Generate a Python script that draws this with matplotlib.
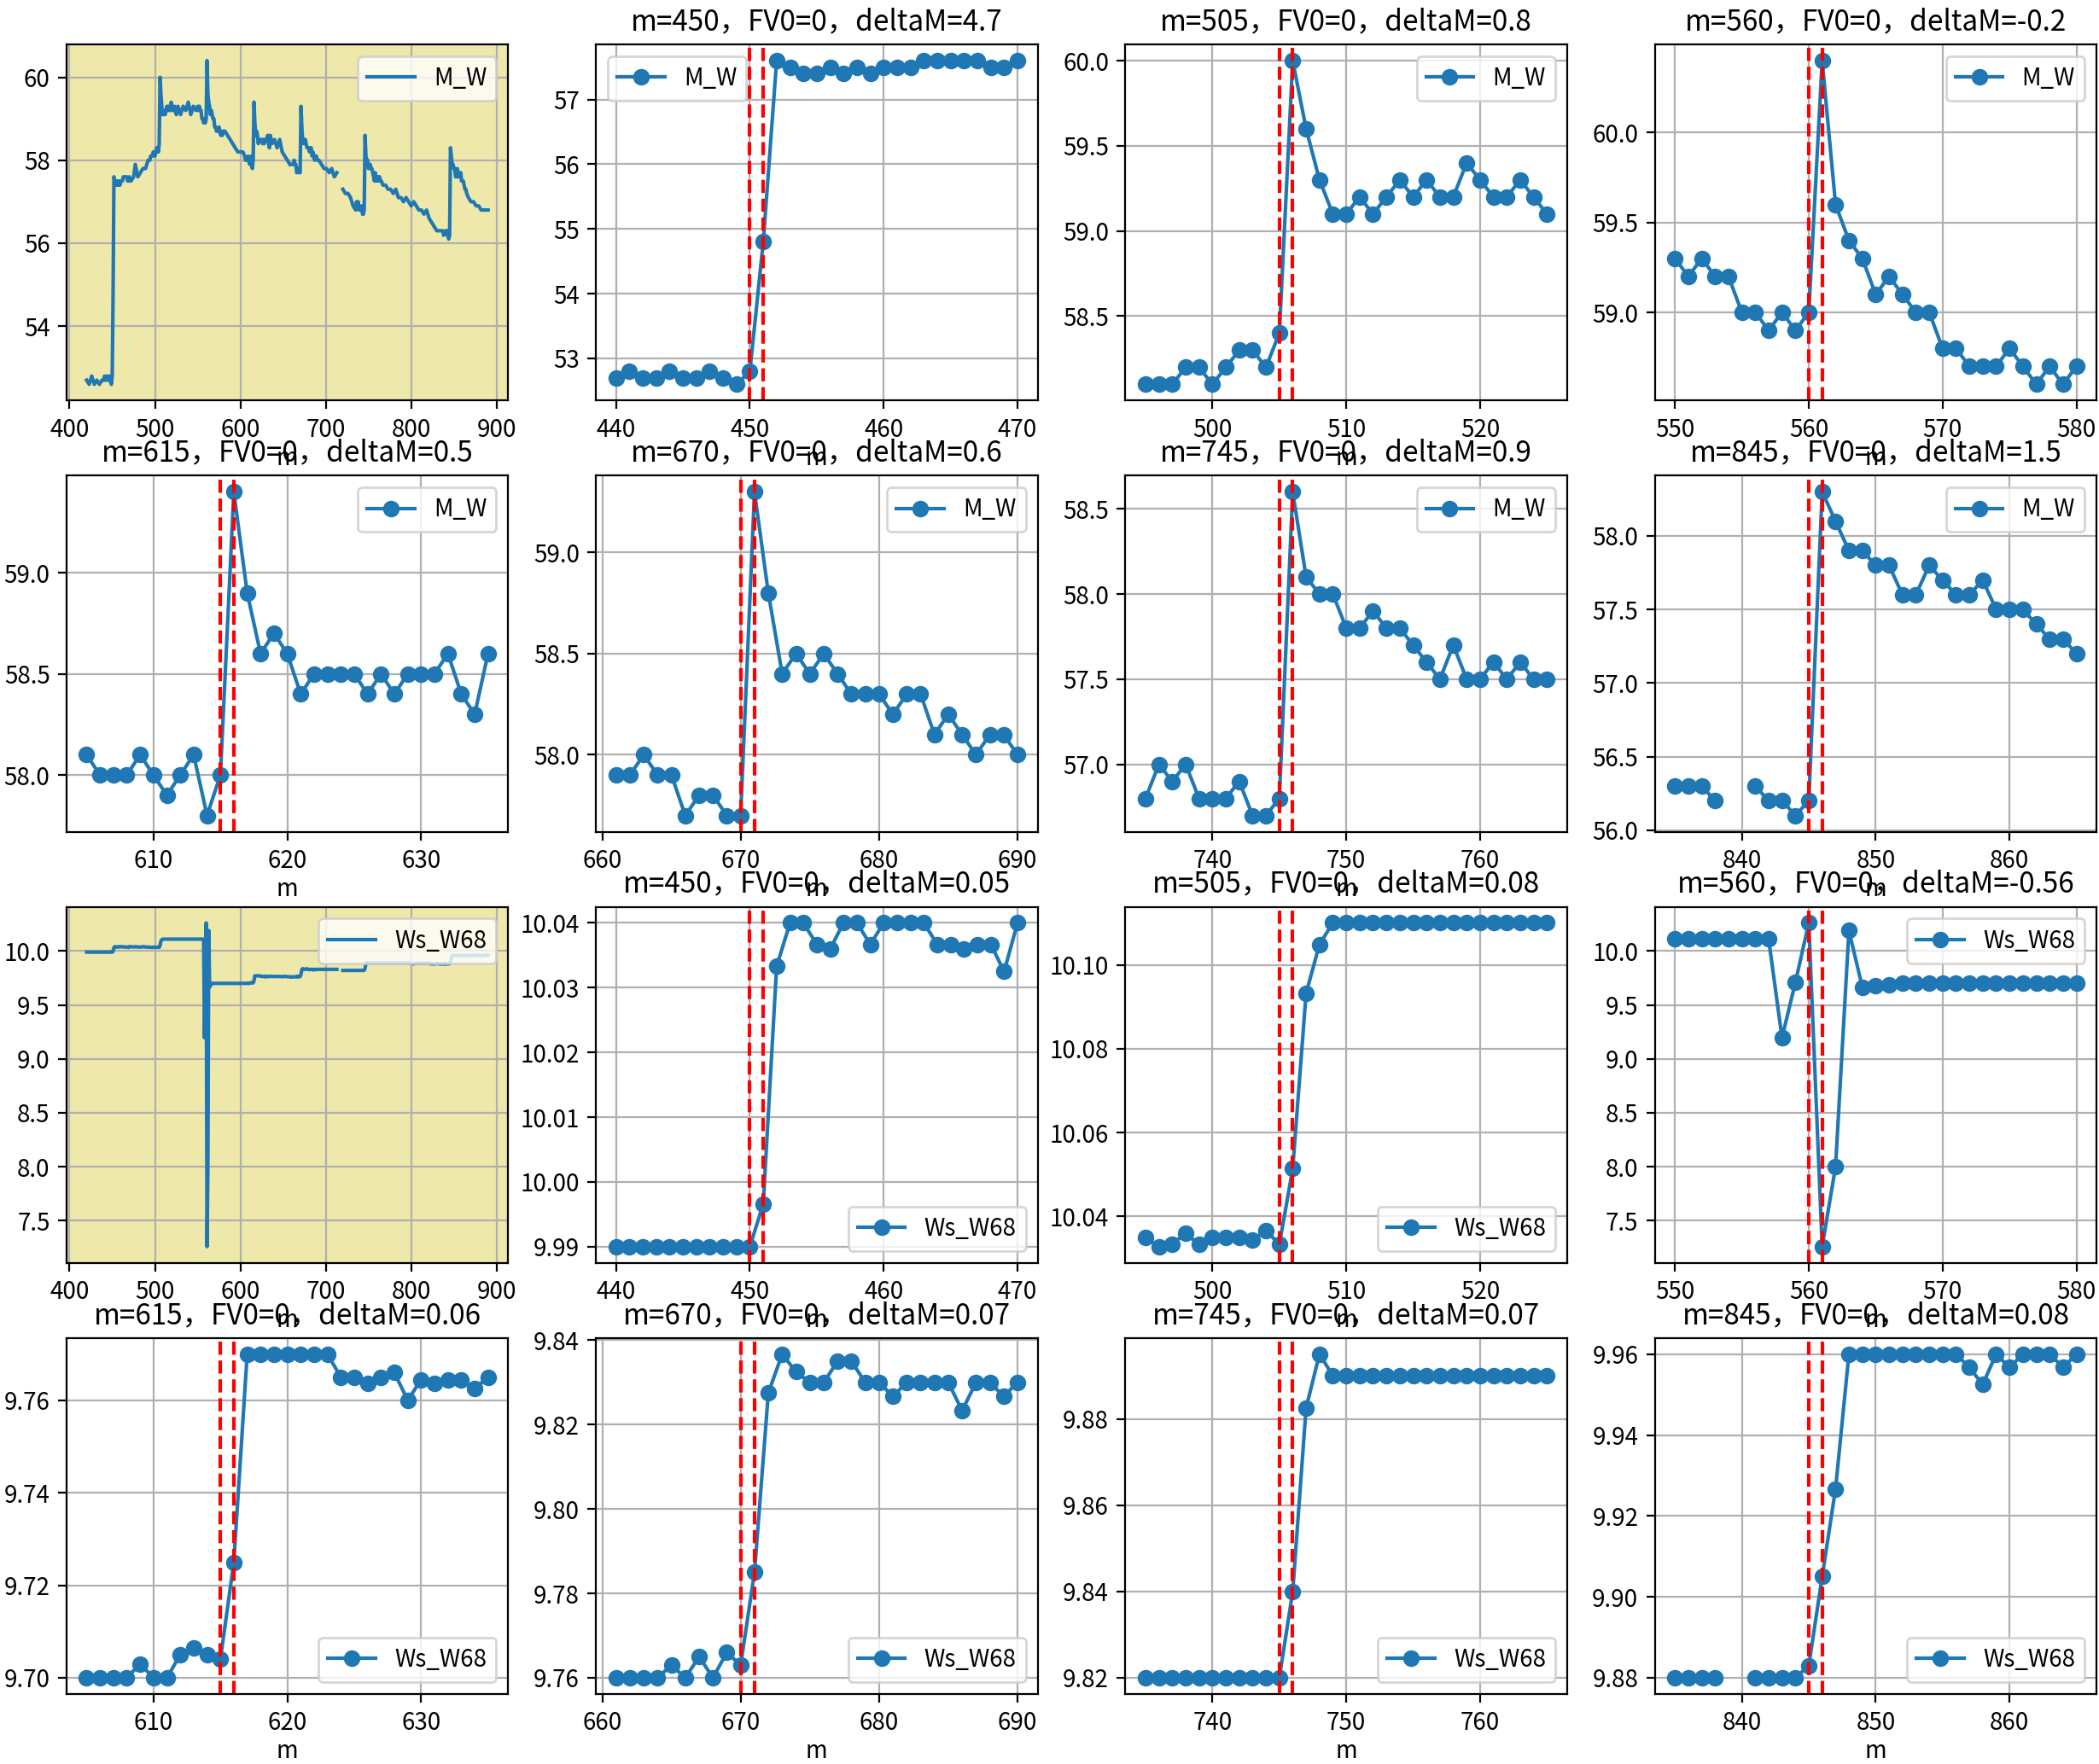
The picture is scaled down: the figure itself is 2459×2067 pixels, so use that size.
import numpy as np
import matplotlib
matplotlib.use('Agg')
import matplotlib.pyplot as plt

plt.rcParams['font.family'] = ['Noto Sans CJK SC', 'DejaVu Sans']
plt.rcParams['axes.unicode_minus'] = False

nan = np.nan

# jump points and deltas shown in the titles
centers = [450, 505, 560, 615, 670, 745, 845]
mw_delta = [4.7, 0.8, -0.2, 0.5, 0.6, 0.9, 1.5]
ws_delta = [0.05, 0.08, -0.56, 0.06, 0.07, 0.07, 0.08]

# M_W around each jump, m = c-10 .. c+20
mw_450 = [52.7, 52.8, 52.7, 52.7, 52.8, 52.7, 52.7, 52.8, 52.7, 52.6, 52.8, 54.8, 57.6,
          57.5, 57.4, 57.4, 57.5, 57.4, 57.5, 57.4, 57.5, 57.5, 57.5, 57.6, 57.6, 57.6,
          57.6, 57.6, 57.5, 57.5, 57.6]
mw_505 = [58.1, 58.1, 58.1, 58.2, 58.2, 58.1, 58.2, 58.3, 58.3, 58.2, 58.4, 60.0,
          59.6, 59.3, 59.1, 59.1, 59.2, 59.1, 59.2, 59.3, 59.2, 59.3, 59.2, 59.2, 59.4,
          59.3, 59.2, 59.2, 59.3, 59.2, 59.1]
mw_560 = [59.3, 59.2, 59.3, 59.2, 59.2, 59.0, 59.0, 58.9, 59.0, 58.9, 59.0, 60.4,
          59.6, 59.4, 59.3, 59.1, 59.2, 59.1, 59.0, 59.0, 58.8, 58.8, 58.7, 58.7, 58.7,
          58.8, 58.7, 58.6, 58.7, 58.6, 58.7]
mw_615 = [58.1, 58.0, 58.0, 58.0, 58.1, 58.0, 57.9, 58.0, 58.1, 57.8, 58.0, 59.4,
          58.9, 58.6, 58.7, 58.6, 58.4, 58.5, 58.5, 58.5, 58.5, 58.4, 58.5, 58.4, 58.5,
          58.5, 58.5, 58.6, 58.4, 58.3, 58.6]
mw_670 = [nan, 57.9, 57.9, 58.0, 57.9, 57.9, 57.7, 57.8, 57.8, 57.7, 57.7, 59.3,
          58.8, 58.4, 58.5, 58.4, 58.5, 58.4, 58.3, 58.3, 58.3, 58.2, 58.3, 58.3, 58.1,
          58.2, 58.1, 58.0, 58.1, 58.1, 58.0]
mw_745 = [56.8, 57.0, 56.9, 57.0, 56.8, 56.8, 56.8, 56.9, 56.7, 56.7, 56.8, 58.6,
          58.1, 58.0, 58.0, 57.8, 57.8, 57.9, 57.8, 57.8, 57.7, 57.6, 57.5, 57.7, 57.5,
          57.5, 57.6, 57.5, 57.6, 57.5, 57.5]
mw_845 = [56.3, 56.3, 56.3, 56.2, nan, nan, 56.3, 56.2, 56.2, 56.1, 56.2, 58.3,
          58.1, 57.9, 57.9, 57.8, 57.8, 57.6, 57.6, 57.8, 57.7, 57.6, 57.6, 57.7, 57.5,
          57.5, 57.5, 57.4, 57.3, 57.3, 57.2]

# Ws_W68 around each jump
ws_450 = [9.99] * 11 + [9.9966, 10.0333, 10.04, 10.04, 10.0367, 10.036, 10.04, 10.04,
          10.0367, 10.04, 10.04, 10.04, 10.04, 10.0367, 10.0367, 10.036, 10.0367,
          10.0367, 10.0325, 10.04]
ws_505 = [10.035, 10.0328, 10.0334, 10.036, 10.0333, 10.035, 10.035, 10.035, 10.0343,
          10.0367, 10.0333, 10.0514, 10.0932, 10.1049] + [10.11] * 17
ws_560 = [10.11] * 8 + [9.196, 9.71, 10.26, 7.26, 8.0, 10.19, 9.665, 9.68, 9.69] + [9.70] * 14
ws_615 = [9.70, 9.70, 9.70, 9.70, 9.703, 9.70, 9.70, 9.705, 9.7065, 9.705, 9.704,
          9.725] + [9.77] * 7 + [9.765, 9.765, 9.7637, 9.765, 9.766, 9.76, 9.7645,
          9.7637, 9.7645, 9.7645, 9.7625, 9.765]
ws_670 = [nan, 9.76, 9.76, 9.76, 9.76, 9.763, 9.76, 9.765, 9.76, 9.766, 9.763, 9.785,
          9.8275, 9.8367, 9.8325, 9.83, 9.83, 9.835, 9.835, 9.83, 9.83, 9.8267, 9.83,
          9.83, 9.83, 9.83, 9.8233, 9.83, 9.83, 9.8267, 9.83]
ws_745 = [9.82] * 11 + [9.84, 9.8825, 9.895] + [9.89] * 17
ws_845 = [9.88] * 4 + [nan, nan] + [9.88] * 4 + [9.883, 9.905, 9.9267] + [9.96] * 9 + \
         [9.9567, 9.9525, 9.96, 9.9567, 9.96, 9.96, 9.96, 9.9567, 9.96]

mw_windows = [mw_450, mw_505, mw_560, mw_615, mw_670, mw_745, mw_845]
ws_windows = [ws_450, ws_505, ws_560, ws_615, ws_670, ws_745, ws_845]

# full series, points read between the windows
bg_m = [420, 423, 426, 429, 432, 435, 438,
        472, 475, 477, 480, 483, 486, 489, 492, 494,
        527, 530, 533, 536, 539, 542, 545, 548,
        582, 585, 588, 591, 594, 597, 600, 603,
        637, 640, 643, 646, 649, 652, 655, 658,
        692, 695, 698, 701, 704, 707, 710, 713, 716, 720, 723, 726, 729, 732,
        767, 770, 773, 776, 779, 782, 785, 788, 791, 794, 797, 800, 803, 806, 809,
        812, 815, 818, 821, 824, 827, 830, 833,
        867, 870, 873, 876, 879, 882, 885, 888, 890]
mw_bg = [52.7, 52.6, 52.8, 52.6, 52.7, 52.6, 52.7,
         57.5, 57.6, 57.9, 57.6, 57.7, 57.8, 57.8, 58.0, 58.0,
         59.3, 59.1, 59.3, 59.2, 59.4, 59.1, 59.3, 59.2,
         58.7, 58.6, 58.5, 58.4, 58.3, 58.2, 58.2, 58.2,
         58.4, 58.5, 58.3, 58.5, 58.2, 58.1, 58.0, 57.9,
         58.0, 57.9, 57.8, 57.8, 57.7, 57.8, 57.6, 57.7, nan, 57.3, 57.2, 57.2, 57.1, 56.9,
         57.4, 57.4, 57.3, 57.3, 57.2, 57.3, 57.1, 57.1, 57.0, 57.1, 57.0, 56.9, 57.0,
         56.9, 56.8, 56.8, 56.7, 56.8, 56.6, 56.5, 56.4, 56.3, 56.3,
         57.1, 57.0, 57.0, 56.9, 56.9, 56.8, 56.8, 56.8, 56.8]
ws_bg = [9.99] * 7 + \
        [10.04, 10.037, 10.04, 10.037, 10.036, 10.04, 10.037, 10.036, 10.035] + \
        [10.11] * 8 + [9.70] * 8 + \
        [9.765, 9.763, 9.765, 9.764, 9.762, 9.765, 9.763, 9.76] + \
        [9.83] * 8 + [nan] + [9.82] * 5 + \
        [9.89] * 11 + [9.885, 9.88, 9.89, 9.885, 9.89, 9.885, 9.89, 9.885, 9.88, 9.88,
                       9.885, 9.88] + \
        [9.955, 9.96, 9.96, 9.96, 9.96, 9.955, 9.96, 9.96, 9.96]

mw_legend = ['upper left', 'upper right', 'upper right', 'upper right',
             'upper right', 'upper right', 'upper right']
ws_legend = ['lower right', 'lower right', 'upper right', 'lower right',
             'lower right', 'lower right', 'lower right']


def full_series(bg_vals, windows):
    d = dict(zip(bg_m, bg_vals))
    for c, w in zip(centers, windows):
        for m, v in zip(range(c - 10, c + 21), w):
            d[m] = v
    ms = sorted(d)
    return ms, [d[m] for m in ms]


fig, axes = plt.subplots(4, 4, figsize=(2459 / 200, 2067 / 200), dpi=200)
plt.subplots_adjust(left=0.0317, right=0.9988, bottom=0.0397, top=0.9748,
                    wspace=0.199, hspace=0.211)
axes = axes.flatten()

groups = [('M_W', mw_bg, mw_windows, mw_delta, mw_legend, 0),
          ('Ws_W68', ws_bg, ws_windows, ws_delta, ws_legend, 8)]

for name, bg, wins, deltas, locs, start in groups:
    ax = axes[start]
    ms, vals = full_series(bg, wins)
    ax.plot(ms, vals, label=name)
    ax.set_facecolor('palegoldenrod')
    ax.grid(True)
    ax.set_xlabel('m', labelpad=1)
    ax.legend(loc='upper right')
    for i, (c, w, dm) in enumerate(zip(centers, wins, deltas)):
        ax = axes[start + 1 + i]
        ax.plot(list(range(c - 10, c + 21)), w, 'o-', label=name)
        ax.axvline(c, color='r', ls='--')
        ax.axvline(c + 1, color='r', ls='--')
        ax.set_title(f'm={c}，FV0=0，deltaM={dm}')
        ax.set_xlabel('m', labelpad=1)
        ax.grid(True)
        ax.legend(loc=locs[i])

fig.savefig('out.png', dpi=200)
